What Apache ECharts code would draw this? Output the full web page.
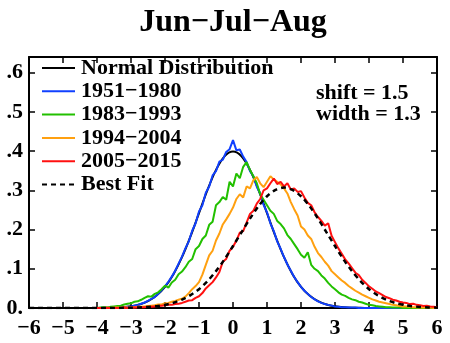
<!DOCTYPE html>
<html>
<head>
<meta charset="utf-8">
<script src="https://cdn.jsdelivr.net/npm/echarts@6/dist/echarts.min.js"></script>
<style>
html,body{margin:0;padding:0;background:#fff;}
#chart{width:450px;height:343px;}
</style>
</head>
<body>
<div id="chart"></div>
<script>
// ---- data ----
const seriesNames = ['Normal Distribution', '1951\u22121980', '1983\u22121993', '1994\u22122004', '2005\u22122015', 'Best Fit'];
const xTickValues = [-6, -5, -4, -3, -2, -1, 0, 1, 2, 3, 4, 5, 6];
const yTickLabels = ['0.', '.1', '.2', '.3', '.4', '.5', '.6'];
const titleText = 'Jun\u2212Jul\u2212Aug';
const noteLines = ['shift = 1.5', 'width = 1.3'];

// smooth curves sampled every 0.25 starting at x = -6
const smoothStart = -6, smoothStep = 0.25;
const normalValues = [
  0,0,0,0, 0,0,0,0, 0.0001,0.0004,0.0009,0.0020,
  0.0044,0.0091,0.0175,0.0317, 0.0540,0.0863,0.1295,0.1826,
  0.2420,0.3011,0.3521,0.3867, 0.3989,
  0.3867,0.3521,0.3011,0.2420, 0.1826,0.1295,0.0863,0.0540,
  0.0317,0.0175,0.0091,0.0044, 0.0020,0.0009,0.0004,0.0001,
  0,0,0,0, 0,0,0,0
];
const bestFitValues = [
  0,0,0,0, 0,0,0,0, 0,0,0.0002,0.0004,
  0.0008,0.0015,0.0027,0.0047, 0.0082,0.0135,0.0214,0.0328,
  0.048,0.0687,0.094,0.124, 0.158,0.193,0.228,0.260,
  0.285,0.301,0.307,0.301, 0.285,0.260,0.228,0.193,
  0.158,0.124,0.094,0.0687, 0.048,0.0328,0.0214,0.0135,
  0.0082,0.0047,0.0027,0.0015, 0.0008
];

// noisy observed curves sampled every 0.1 starting at x = -4
const obsStart = -4, obsStep = 0.1;
const blue5180 = [
  0.000,0.000,0.000,0.001,0.001,0.001,0.001,0.002,0.002,0.003,
  0.004,0.006,0.008,0.011,0.014,0.018,0.023,0.028,0.036,0.045,
  0.055,0.067,0.080,0.095,0.113,0.131,0.152,0.170,0.197,0.216,
  0.246,0.262,0.294,0.310,0.338,0.349,0.373,0.378,0.398,0.405,
  0.428,0.402,0.404,0.386,0.372,0.349,0.336,0.309,0.292,0.263,
  0.244,0.216,0.196,0.170,0.151,0.130,0.111,0.095,0.079,0.066,
  0.054,0.044,0.036,0.028,0.022,0.017,0.013,0.010,0.008,0.006,
  0.004,0.003,0.002,0.002,0.001,0.001,0.001,0.000,0.000,0.000,
  0.000,0.000,0.000,0.000,0.000,0.000,0.000,0.000,0.000,0.000,
  0.000,0.000,0.000,0.000,0.000,0.000,0.000,0.000,0.000,0.000,
  0.000
];
const green8393 = [
  0.000,0.001,0.002,0.001,0.003,0.004,0.005,0.006,0.009,0.011,
  0.012,0.016,0.017,0.021,0.026,0.030,0.029,0.036,0.040,0.048,
  0.057,0.052,0.065,0.072,0.086,0.093,0.104,0.118,0.125,0.150,
  0.158,0.176,0.185,0.212,0.220,0.262,0.270,0.283,0.276,0.322,
  0.310,0.343,0.331,0.360,0.372,0.352,0.336,0.318,0.290,0.276,
  0.262,0.248,0.240,0.222,0.214,0.203,0.186,0.176,0.163,0.150,
  0.136,0.128,0.142,0.110,0.100,0.094,0.083,0.075,0.064,0.055,
  0.048,0.040,0.034,0.031,0.026,0.022,0.020,0.016,0.014,0.011,
  0.008,0.007,0.005,0.004,0.003,0.002,0.002,0.001,0.001,0.001,
  0.000,0.000,0.000,0.000,0.000,0.000,0.000,0.000,0.000,0.000,
  0.000
];
const orange9404 = [
  0.000,0.000,0.000,0.001,0.000,0.001,0.001,0.001,0.002,0.001,
  0.002,0.002,0.003,0.003,0.004,0.005,0.006,0.007,0.009,0.009,
  0.012,0.013,0.016,0.018,0.021,0.024,0.029,0.038,0.048,0.056,
  0.066,0.085,0.110,0.134,0.146,0.172,0.190,0.213,0.226,0.240,
  0.256,0.278,0.290,0.282,0.310,0.305,0.326,0.334,0.318,0.308,
  0.322,0.336,0.328,0.322,0.315,0.305,0.292,0.270,0.252,0.236,
  0.208,0.200,0.185,0.176,0.156,0.140,0.130,0.118,0.108,0.094,
  0.086,0.078,0.070,0.064,0.056,0.050,0.044,0.039,0.034,0.030,
  0.026,0.022,0.019,0.016,0.014,0.012,0.010,0.008,0.007,0.005,
  0.004,0.004,0.003,0.002,0.002,0.001,0.001,0.001,0.001,0.000,
  0.000
];
const red0515 = [
  0.000,0.000,0.000,0.000,0.000,0.000,0.000,0.000,0.001,0.000,
  0.001,0.001,0.001,0.002,0.002,0.003,0.003,0.004,0.005,0.006,
  0.007,0.008,0.008,0.010,0.011,0.013,0.016,0.019,0.020,0.026,
  0.030,0.038,0.050,0.058,0.066,0.078,0.092,0.118,0.125,0.146,
  0.156,0.172,0.192,0.196,0.218,0.240,0.248,0.266,0.278,0.300,
  0.305,0.318,0.330,0.316,0.322,0.310,0.318,0.302,0.305,0.296,
  0.298,0.282,0.268,0.262,0.244,0.232,0.222,0.210,0.216,0.184,
  0.168,0.152,0.138,0.124,0.114,0.102,0.090,0.084,0.072,0.064,
  0.055,0.049,0.042,0.038,0.033,0.028,0.025,0.021,0.019,0.016,
  0.014,0.013,0.010,0.011,0.008,0.007,0.005,0.006,0.004,0.003,
  0.002
];

// ---- build chart ----
function pairs(values, start, step) {
  return values.map(function (v, i) { return [Math.round((start + i * step) * 1000) / 1000, v]; });
}
const FONT = '"Liberation Serif", "DejaVu Serif", serif';
const colors = ['#000000', '#1040ff', '#22c000', '#ffa010', '#ff1010', '#000000'];

function lineSeries(name, data, color, extra) {
  const s = {
    name: name, type: 'line', data: data, symbol: 'none', showSymbol: false,
    xAxisIndex: 0, yAxisIndex: 0, animation: false,
    lineStyle: { color: color, width: 2 }, itemStyle: { color: color },
    z: 2
  };
  return Object.assign(s, extra || {});
}

const chart = echarts.init(document.getElementById('chart'), null, { renderer: 'canvas' });
const axisLine = { show: true, onZero: false, lineStyle: { color: '#000', width: 2 } };
const tickStyle = { show: true, inside: true, length: 6, lineStyle: { color: '#000', width: 1.5 } };

chart.setOption({
  animation: false,
  backgroundColor: '#fff',
  grid: { left: 29, right: 13, top: 57, bottom: 35, containLabel: false },
  xAxis: [
    {
      type: 'value', min: -6, max: 6, interval: 1, position: 'bottom',
      axisLine: axisLine, axisTick: tickStyle, splitLine: { show: false },
      axisLabel: {
        margin: 9, color: '#000', fontFamily: FONT, fontWeight: 'bold', fontSize: 22,
        formatter: function (v) { return xTickValues.indexOf(v) < 0 ? '' : (v < 0 ? '\u2212' + (-v) : String(v)); }
      }
    },
    {
      type: 'value', min: -6, max: 6, interval: 1, position: 'top',
      axisLine: axisLine, axisTick: tickStyle, splitLine: { show: false }, axisLabel: { show: false }
    }
  ],
  yAxis: [
    {
      type: 'value', min: 0, max: 0.64, interval: 0.1, position: 'left',
      axisLine: axisLine, axisTick: tickStyle, splitLine: { show: false },
      axisLabel: {
        margin: 6, color: '#000', fontFamily: FONT, fontWeight: 'bold', fontSize: 22,
        showMaxLabel: false,
        formatter: function (v) {
          const k = Math.round(v * 10);
          if (Math.abs(v * 10 - k) > 1e-6) return '';
          return yTickLabels[k] || '';
        }
      }
    },
    {
      type: 'value', min: 0, max: 0.64, interval: 0.1, position: 'right',
      axisLine: axisLine, axisTick: tickStyle, splitLine: { show: false }, axisLabel: { show: false }
    }
  ],
  legend: {
    show: true, orient: 'vertical', left: 41, top: 57, padding: 0,
    itemWidth: 33, itemHeight: 2, itemGap: 1.3,
    itemStyle: { opacity: 0, borderWidth: 0 },
    textStyle: { color: '#000', fontFamily: FONT, fontWeight: 'bold', fontSize: 22, padding: [0, 0, 0, 1] },
    data: seriesNames
  },
  graphic: [
    { type: 'text', x: 233, y: 23, style: { text: titleText, textAlign: 'center', textVerticalAlign: 'middle', font: 'bold 32px ' + FONT, fill: '#000' } },
    { type: 'text', x: 316, y: 93, style: { text: noteLines[0], textAlign: 'left', textVerticalAlign: 'middle', font: 'bold 22px ' + FONT, fill: '#000' } },
    { type: 'text', x: 316, y: 114, style: { text: noteLines[1], textAlign: 'left', textVerticalAlign: 'middle', font: 'bold 22px ' + FONT, fill: '#000' } }
  ],
  series: [
    lineSeries(seriesNames[0], pairs(normalValues, smoothStart, smoothStep), colors[0], { smooth: 0.3, lineStyle: { color: colors[0], width: 2 } }),
    lineSeries(seriesNames[1], pairs(blue5180, obsStart, obsStep), colors[1]),
    lineSeries(seriesNames[2], pairs(green8393, obsStart, obsStep), colors[2]),
    lineSeries(seriesNames[3], pairs(orange9404, obsStart, obsStep), colors[3]),
    lineSeries(seriesNames[4], pairs(red0515, obsStart, obsStep), colors[4]),
    lineSeries(seriesNames[5], pairs(bestFitValues, smoothStart, smoothStep), colors[5], { smooth: 0.3, z: 3, lineStyle: { color: colors[5], width: 2.5, type: [5, 4] } })
  ]
});
</script>
</body>
</html>
